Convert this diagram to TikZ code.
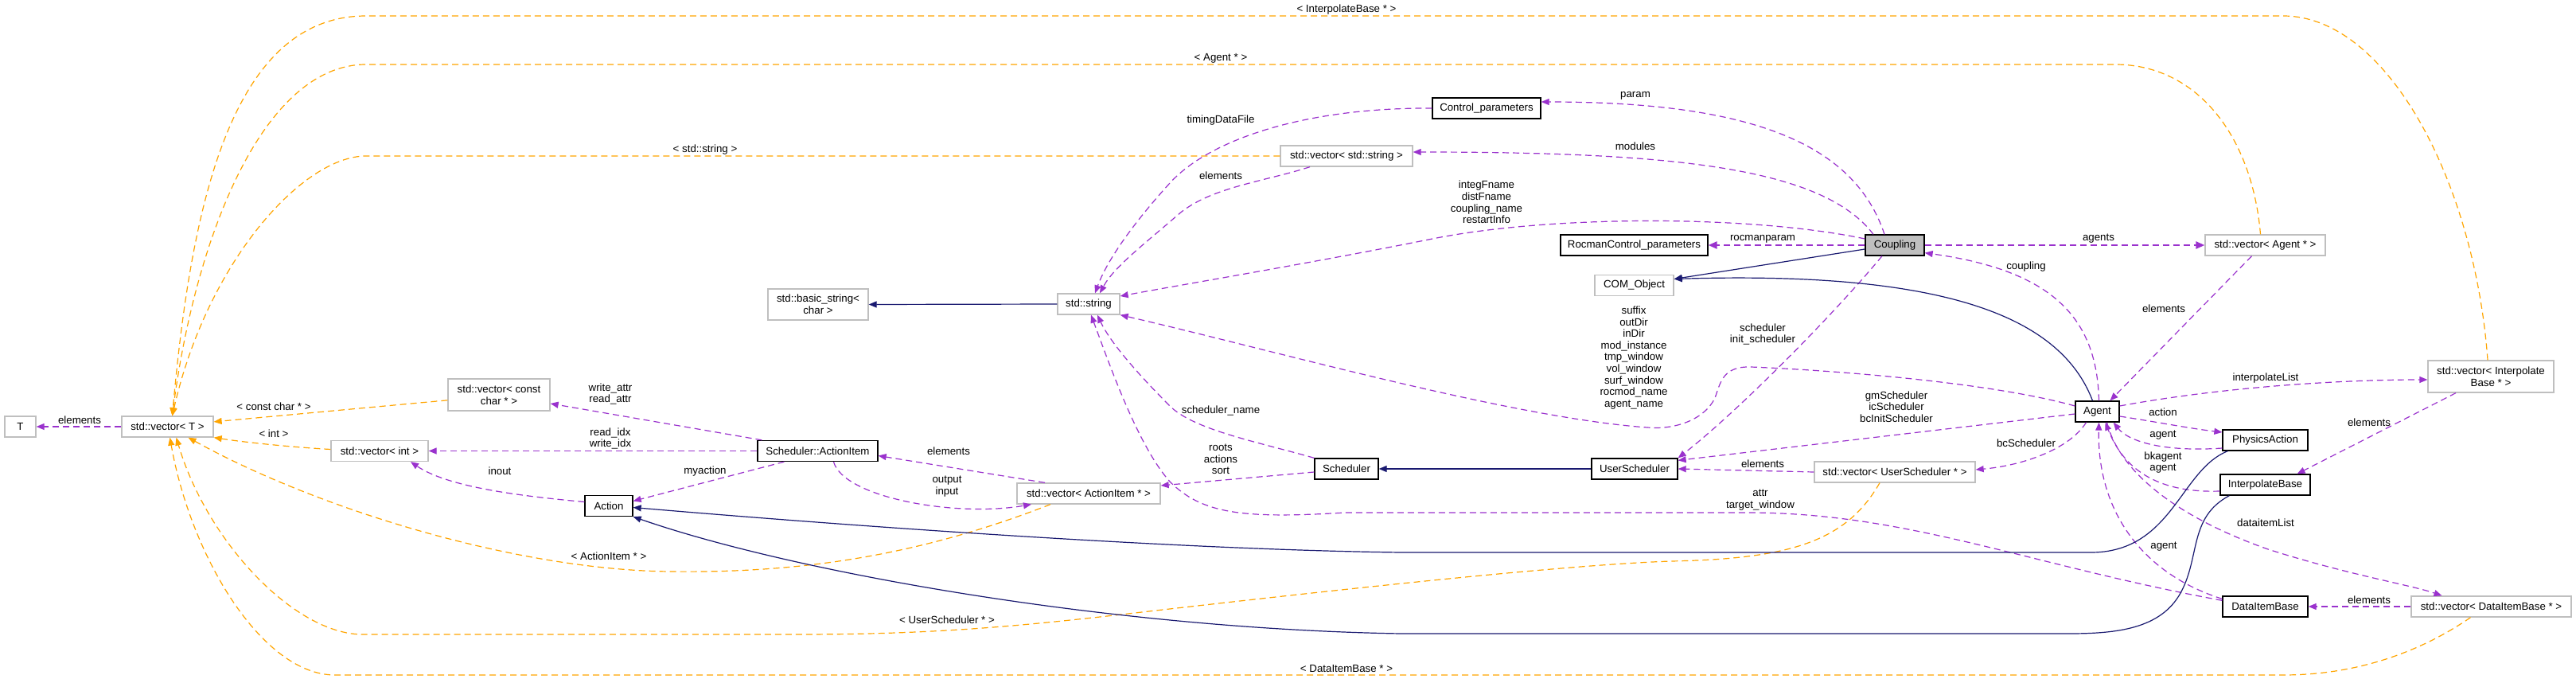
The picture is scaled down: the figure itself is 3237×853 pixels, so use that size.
\documentclass[tikz,border=0pt]{standalone}
\usepackage{fontspec}
\setmainfont{Liberation Sans}
\usetikzlibrary{arrows.meta}
\definecolor{purp}{HTML}{9A32CD}
\definecolor{orng}{HTML}{FFA500}
\definecolor{mblue}{HTML}{191970}
\definecolor{gry}{HTML}{BFBFBF}
\tikzset{
  every node/.style={font=\fontsize{13.3}{14.6}\selectfont},
  cls/.style={draw=black, line width=1.3pt, fill=white, minimum height=26pt, inner sep=2pt, align=center},
  ext/.style={draw=gry, line width=1.3pt, fill=white, minimum height=26pt, inner sep=2pt, align=center},
  lab/.style={align=center, inner sep=0pt},
  usage/.style={draw=purp, line width=1.2pt, dash pattern=on 8pt off 5pt, -{Triangle[length=10pt,width=8pt]}},
  tmpl/.style={draw=orng, line width=1.2pt, dash pattern=on 8pt off 5pt, -{Triangle[length=10pt,width=8pt]}},
  inh/.style={draw=mblue, line width=1.2pt, -{Triangle[length=10pt,width=8pt]}},
  thick usage/.style={usage, line width=2.4pt, -{Triangle[length=11pt,width=9pt]}}
}
\begin{document}
\begin{tikzpicture}[x=1pt,y=-1pt]
\fill[white] (0,0) rectangle (3237,853);
\useasboundingbox (0,0) rectangle (3237,853);

% ---------- nodes ----------
\node[ext, minimum width=39pt] (T) at (25.5,536) {T};
\node[ext, minimum width=115pt] (vecT) at (210.5,536) {std::vector< T >};
\node[ext, minimum width=128pt, minimum height=40pt] (vecCC) at (627,496) {std::vector< const\\char * >};
\node[ext, minimum width=122pt] (vecInt) at (477,566.5) {std::vector< int >};
\node[cls, minimum width=151pt] (actionItem) at (1027.5,566.5) {Scheduler::ActionItem};
\node[cls, minimum width=60pt] (action) at (765,635.5) {Action};
\node[ext, minimum width=180pt] (vecAI) at (1368,620) {std::vector< ActionItem * >};
\node[cls, minimum width=80pt] (scheduler) at (1692,589) {Scheduler};
\node[cls, minimum width=108pt] (userSched) at (2054,589) {UserScheduler};
\node[ext, minimum width=78pt] (stdstring) at (1368,382) {std::string};
\node[ext, minimum width=126pt, minimum height=39pt] (basicString) at (1028,382.5) {std::basic\_string<\\char >};
\node[cls, minimum width=136pt] (controlParams) at (1868,136) {Control\_parameters};
\node[ext, minimum width=166pt] (vecStr) at (1692,196) {std::vector< std::string >};
\node[cls, minimum width=185pt] (rocman) at (2053.5,308) {RocmanControl\_parameters};
\node[ext, minimum width=99pt] (comObject) at (2053.5,358.5) {COM\_Object};
\node[cls, fill=gry, minimum width=74pt] (coupling) at (2381,308) {Coupling};
\node[ext, minimum width=151pt] (vecAgent) at (2846.5,308) {std::vector< Agent * >};
\node[cls, minimum width=55pt] (agent) at (2635.5,517) {Agent};
\node[ext, minimum width=158pt, minimum height=40pt] (vecInterp) at (3130,473) {std::vector< Interpolate\\Base * >};
\node[cls, minimum width=107pt] (physAction) at (2846.5,553) {PhysicsAction};
\node[cls, minimum width=113pt] (interpBase) at (2846.5,609) {InterpolateBase};
\node[ext, minimum width=202pt] (vecUS) at (2381,593) {std::vector< UserScheduler * >};
\node[cls, minimum width=107pt] (dataItem) at (2846.5,762) {DataItemBase};
\node[ext, minimum width=201pt] (vecDI) at (3130.5,762) {std::vector< DataItemBase * >};

% ---------- template instantiation edges (orange) ----------
\draw[tmpl] (vecCC.186) -- (vecT.6);
\draw[tmpl] ([yshift=2pt]vecInt.west) .. controls (370,562) and (310,556) .. (vecT.south east);
\draw[tmpl] ([xshift=-4pt]vecInterp.north) .. controls (3110,230) and (3000,20) .. (2869,20) -- (460,20) .. controls (290,20) and (240,260) .. ([xshift=6pt]vecT.north);
\draw[tmpl] ([xshift=-6pt]vecAgent.north) .. controls (2830,170) and (2760,81) .. (2658,81) -- (460,81) .. controls (330,81) and (245,300) .. ([xshift=6pt]vecT.north);
\draw[tmpl] (vecStr.west) -- (460,196) .. controls (380,196) and (260,330) .. ([xshift=6pt]vecT.north);
\draw[tmpl] ([xshift=-19pt]vecUS.south) .. controls (2320,680) and (2250,702) .. (2100,705) .. controls (1950,710) and (1600,750) .. (1400,773) .. controls (1250,790) and (1150,797) .. (1000,797) -- (456,797) .. controls (370,797) and (260,680) .. ([xshift=11pt]vecT.south);
\draw[tmpl] ([xshift=-26pt]vecDI.south) .. controls (3040,820) and (2960,848) .. (2869,848) -- (421,848) .. controls (330,848) and (240,700) .. ([xshift=3pt]vecT.south);
\draw[tmpl] ([xshift=-48pt]vecAI.south) .. controls (1150,700) and (1000,720) .. (842,718) .. controls (650,716) and (400,640) .. ([xshift=26pt]vecT.south);

% ---------- usage edges (purple) ----------
\draw[usage] (vecT.west) -- (T.east);
\draw[usage] ([xshift=6pt]actionItem.north west) -- ([yshift=-11pt]vecCC.east);
\draw[usage] (actionItem.west) -- (vecInt.east);
\draw[usage] ([xshift=34pt]actionItem.south west) -- ([yshift=6pt]action.east);
\draw[usage] ([yshift=5pt]action.west) .. controls (640,622) and (560,610) .. ([xshift=39pt]vecInt.south);
\draw[usage] ([xshift=-55pt]vecAI.north) -- ([yshift=-6pt]actionItem.east);
\draw[usage] ([xshift=20pt]actionItem.south) .. controls (1060,625) and (1200,650) .. ([xshift=-72pt]vecAI.south);
\draw[usage] ([yshift=-4pt]scheduler.west) -- ([yshift=10pt]vecAI.east);
\draw[usage] (scheduler.north west) .. controls (1580,555) and (1500,540) .. (1470,510) .. controls (1430,470) and (1395,430) .. ([xshift=11pt]stdstring.south);
\draw[usage] ([yshift=-6pt]dataItem.north west) .. controls (2550,710) and (2400,645) .. (2200,644) -- (1690,644) .. controls (1560,652) and (1510,645) .. (1470,605) .. controls (1430,560) and (1395,460) .. ([xshift=3pt]stdstring.south);
\draw[usage] (controlParams.west) .. controls (1640,135) and (1520,175) .. (1470,230) .. controls (1420,285) and (1390,330) .. ([xshift=8pt]stdstring.north);
\draw[usage] ([xshift=-46pt]vecStr.south) .. controls (1590,228) and (1520,235) .. (1480,270) .. controls (1440,305) and (1400,335) .. ([xshift=14pt]stdstring.north);
\draw[usage] ([xshift=-13pt]coupling.north) .. controls (2330,180) and (2200,128) .. ([yshift=8pt]controlParams.east);
\draw[usage] ([xshift=-27pt]coupling.north) .. controls (2290,210) and (2100,191) .. ([yshift=5pt]vecStr.east);
\draw[usage] ([yshift=8pt]coupling.west) .. controls (2200,270) and (1950,270) .. (1800,300) .. controls (1650,330) and (1500,355) .. ([yshift=10pt]stdstring.east);
\draw[thick usage] (coupling.west) -- (rocman.east);
\draw[thick usage] (coupling.east) -- (vecAgent.west);
\draw[usage] ([xshift=-16pt]coupling.south) .. controls (2300,400) and (2180,520) .. (userSched.north east);
\draw[usage] ([xshift=2pt]agent.north) .. controls (2635,400) and (2580,340) .. ([yshift=4pt]coupling.south east);
\draw[usage] ([xshift=-17pt]vecAgent.south) -- ([xshift=16pt]agent.north);
\draw[usage] ([yshift=7pt]agent.west) .. controls (2500,480) and (2300,465) .. (2200,461) .. controls (2165,460) and (2162,480) .. (2155,500) .. controls (2140,530) and (2100,540) .. (2070,537) .. controls (1900,525) and (1600,440) .. (stdstring.south east);
\draw[usage] ([yshift=-3pt]agent.west) -- ([yshift=-3pt]userSched.north east);
\draw[usage] ([xshift=-14pt]agent.south) .. controls (2600,565) and (2540,585) .. ([yshift=3pt]vecUS.east);
\draw[usage] (vecUS.west) -- (userSched.east);
\draw[usage] ([yshift=7pt]agent.east) .. controls (2800,485) and (2950,477) .. ([yshift=-4pt]vecInterp.west);
\draw[usage] ([yshift=-6pt]agent.east) .. controls (2710,530) and (2750,538) .. ([yshift=10pt]physAction.west);
\draw[usage] ([yshift=-10pt]physAction.west) .. controls (2720,568) and (2675,555) .. ([xshift=-8pt]agent.south east);
\draw[usage] ([yshift=-8pt]interpBase.west) .. controls (2700,620) and (2665,580) .. ([xshift=10pt]agent.south);
\draw[usage] ([yshift=-4pt]dataItem.north west) .. controls (2690,720) and (2635,640) .. ([xshift=2pt]agent.south);
\draw[usage] ([xshift=12pt]agent.south) .. controls (2665,600) and (2750,655) .. (2850,690) .. controls (2950,722) and (3030,735) .. ([xshift=-62pt]vecDI.north);
\draw[usage] ([xshift=-44pt]vecInterp.south) -- ([xshift=40pt]interpBase.north);
\draw[usage] (vecDI.west) -- (dataItem.east);

% ---------- inheritance edges (blue) ----------
\draw[inh] (stdstring.west) -- (basicString.east);
\draw[inh] (userSched.west) -- (scheduler.east);
\draw[inh] ([yshift=-5pt]coupling.west) -- ([yshift=8pt]comObject.east);
\draw[inh] ([xshift=-6pt]agent.north) .. controls (2590,400) and (2450,340) .. ([yshift=8pt]comObject.east);
\draw[inh] ([xshift=7pt]physAction.south west) .. controls (2740,590) and (2730,692) .. (2630,694) -- (1760,694) .. controls (1450,690) and (1000,655) .. ([yshift=-2pt]action.east);
\draw[inh] ([xshift=12pt]interpBase.south west) .. controls (2750,650) and (2765,700) .. (2740,745) .. controls (2715,790) and (2660,796) .. (2600,796) -- (1760,796) .. controls (1400,790) and (1000,720) .. (action.south east);

% ---------- labels ----------
\node[lab] (l1) at (100,528) {elements};
\node[lab] (l2) at (344,511) {< const char * >};
\node[lab] (l3) at (344,545) {< int >};
\node[lab] (l4) at (767,495) {write\_attr\\read\_attr};
\node[lab] (l5) at (767,551) {read\_idx\\write\_idx};
\node[lab] (l6) at (628,592) {inout};
\node[lab] (l7) at (886,592) {myaction};
\node[lab] (l8) at (765,699) {< ActionItem * >};
\node[lab] (l9) at (1192,567) {elements};
\node[lab] (l10) at (1190,611) {output\\input};
\node[lab] (l11) at (1534,577) {roots\\actions\\sort};
\node[lab] (l12) at (1534,516) {scheduler\_name};
\node[lab] (l13) at (1534,151) {timingDataFile};
\node[lab] (l14) at (1534,221) {elements};
\node[lab] (l15) at (886,188) {< std::string >};
\node[lab] (l16) at (1534,73) {< Agent * >};
\node[lab] (l17) at (1692,12) {< InterpolateBase * >};
\node[lab] (l18) at (1868,254) {integFname\\distFname\\coupling\_name\\restartInfo};
\node[lab] (l19) at (2055,120) {param};
\node[lab] (l20) at (2055,184) {modules};
\node[lab] (l21) at (2215,300) {rocmanparam};
\node[lab] (l22) at (2637,300) {agents};
\node[lab] (l23) at (2546,335) {coupling};
\node[lab] (l24) at (2719,388) {elements};
\node[lab] (l25) at (2053,449.5) {suffix\\outDir\\inDir\\mod\_instance\\tmp\_window\\vol\_window\\surf\_window\\rocmod\_name\\agent\_name};
\node[lab] (l26) at (2215,420) {scheduler\\init\_scheduler};
\node[lab] (l27) at (2383,511) {gmScheduler\\icScheduler\\bcInitScheduler};
\node[lab] (l28) at (2847,475) {interpolateList};
\node[lab] (l29) at (2718,518) {action};
\node[lab] (l30) at (2718,547) {agent};
\node[lab] (l31) at (2718,581) {bkagent\\agent};
\node[lab] (l32) at (2546,557) {bcScheduler};
\node[lab] (l33) at (2215,583) {elements};
\node[lab] (l34) at (2212,628) {attr\\target\_window};
\node[lab] (l35) at (1190,779) {< UserScheduler * >};
\node[lab] (l36) at (2977,531) {elements};
\node[lab] (l37) at (2847,657) {dataitemList};
\node[lab] (l38) at (2719,687) {agent};
\node[lab] (l39) at (2977,754) {elements};
\node[lab] (l40) at (1692,840) {< DataItemBase * >};
\end{tikzpicture}
\end{document}
